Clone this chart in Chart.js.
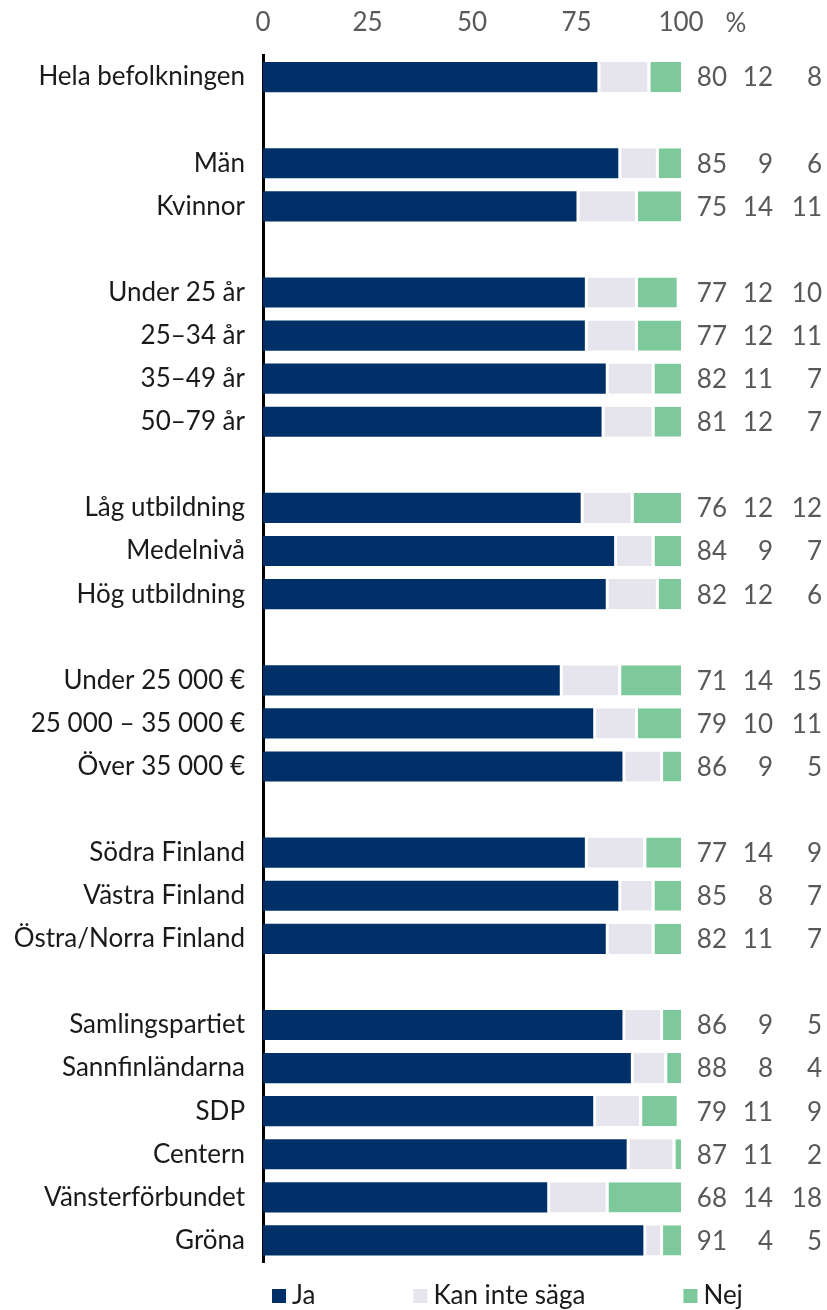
<!DOCTYPE html>
<html>
<head>
<meta charset="utf-8">
<script src="https://cdn.jsdelivr.net/npm/chart.js@4/dist/chart.umd.min.js"></script>
<style>
html,body{margin:0;padding:0;background:#fff;}
#wrap{width:827px;height:1310px;position:relative;}
</style>
</head>
<body>
<div id="wrap"><canvas id="c" width="827" height="1310"></canvas></div>
<script>
const categories = [
  'Hela befolkningen', '',
  'Män', 'Kvinnor', '',
  'Under 25 år', '25–34 år', '35–49 år', '50–79 år', '',
  'Låg utbildning', 'Medelnivå', 'Hög utbildning', '',
  'Under 25 000 €', '25 000 – 35 000 €', 'Över 35 000 €', '',
  'Södra Finland', 'Västra Finland', 'Östra/Norra Finland', '',
  'Samlingspartiet', 'Sannfinländarna', 'SDP', 'Centern', 'Vänsterförbundet', 'Gröna'
];
const ja  = [80,null, 85,75,null, 77,77,82,81,null, 76,84,82,null, 71,79,86,null, 77,85,82,null, 86,88,79,87,68,91];
const kan = [12,null,  9,14,null, 12,12,11,12,null, 12, 9,12,null, 14,10, 9,null, 14, 8,11,null,  9, 8,11,11,14, 4];
const nej = [ 8,null,  6,11,null, 10,11, 7, 7,null, 12, 7, 6,null, 15,11, 5,null,  9, 7, 7,null,  5, 4, 9, 2,18, 5];
const seriesNames = ['Ja', 'Kan inte säga', 'Nej'];
const xTicks = [0, 25, 50, 75, 100];
const unitLabel = '%';

const colors = ['#013068', '#e6e4ec', '#7dc99b'];
const FONT = 'Lato';
const FS = 26;
const GRAY = '#595959';

const extras = {
  id: 'extras',
  afterDraw(chart) {
    const ctx = chart.ctx;
    const x = chart.scales.x, y = chart.scales.y;
    const area = chart.chartArea;
    ctx.save();
    ctx.font = FS + 'px ' + FONT;
    ctx.fillStyle = GRAY;
    ctx.textBaseline = 'middle';
    // unit label next to top ticks
    ctx.textAlign = 'center';
    ctx.fillText(unitLabel, x.getPixelForValue(100) + 55, 24);
    // value columns
    ctx.textAlign = 'right';
    const cols = [area.right + 46, area.right + 92, area.right + 141];
    const sets = [ja, kan, nej];
    categories.forEach((c, i) => {
      if (ja[i] == null) return;
      const py = y.getPixelForValue(i) + 1;
      sets.forEach((s, k) => ctx.fillText(String(s[i]), cols[k], py));
    });
    // legend
    const ly = area.bottom + 34;
    let lx = area.left + 9;
    ctx.textAlign = 'left';
    seriesNames.forEach((n, k) => {
      ctx.fillStyle = colors[k];
      ctx.fillRect(lx, ly - 7, 14, 14);
      ctx.fillStyle = '#1a1a1a';
      ctx.fillText(n, lx + 20, ly);
      lx += 20 + ctx.measureText(n).width + 98;
    });
    ctx.restore();
  }
};

new Chart(document.getElementById('c'), {
  type: 'bar',
  data: {
    labels: categories,
    datasets: [ja, kan, nej].map((d, k) => ({
      label: seriesNames[k],
      data: d,
      backgroundColor: colors[k],
      borderColor: '#ffffff',
      borderWidth: k > 0 ? {left: 3, right: 0, top: 0, bottom: 0} : 0,
      borderSkipped: false,
      barPercentage: 0.7,
      categoryPercentage: 1.0
    }))
  },
  options: {
    indexAxis: 'y',
    responsive: false,
    animation: false,
    devicePixelRatio: 1,
    layout: { padding: { left: 0, right: 146, top: 0, bottom: 48 } },
    plugins: { legend: { display: false }, tooltip: { enabled: false } },
    scales: {
      x: {
        position: 'top',
        stacked: true,
        min: 0, max: 100,
        afterBuildTicks(s) { s.ticks = xTicks.map(v => ({ value: v })); },
        afterFit(s) { s.height = 55.5; },
        grid: { display: false, drawTicks: false },
        border: { display: false },
        ticks: { color: GRAY, font: { family: FONT, size: FS }, padding: 17 }
      },
      y: {
        stacked: true,
        afterFit(s) { s.width = 263; },
        grid: { display: false, drawTicks: false },
        border: { display: true, color: '#000', width: 3 },
        ticks: { color: '#1a1a1a', font: { family: FONT, size: FS }, padding: 18, autoSkip: false }
      }
    }
  },
  plugins: [extras]
});
</script>
</body>
</html>
